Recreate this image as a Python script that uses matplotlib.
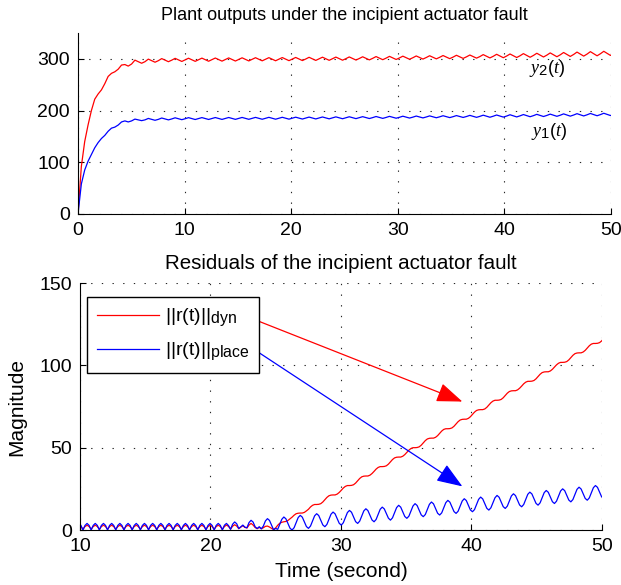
import numpy as np
import matplotlib
matplotlib.use('Agg')
import matplotlib.pyplot as plt
import matplotlib._mathtext as _mt

_mt.SHRINK_FACTOR = 0.82  # larger subscripts, as in the reference

plt.rcParams['font.family'] = ['Liberation Sans', 'DejaVu Sans']
plt.rcParams['mathtext.fontset'] = 'custom'
plt.rcParams['mathtext.rm'] = 'Liberation Sans'
plt.rcParams['mathtext.it'] = 'Liberation Serif:italic'
plt.rcParams['mathtext.bf'] = 'Liberation Sans:bold'

# ---------------- data ----------------
top_title = "Plant outputs under the incipient actuator fault"
bottom_title = "Residuals of the incipient actuator fault"
top_xticks = [0, 10, 20, 30, 40, 50]
top_yticks = [0, 100, 200, 300]
bot_xticks = [10, 20, 30, 40, 50]
bot_yticks = [0, 50, 100, 150]

# plant outputs, sampled every OUT_DT seconds from OUT_T0
OUT_T0 = 0.0
OUT_DT = 0.31416
y2_vals = [
    0, 92, 140, 172, 200, 222, 232, 240, 252, 266, 272, 275, 280, 288, 289, 286, 290,
    297.5, 294.5, 291.5, 294.5, 299.5, 296.5, 293.5, 296.5,
    300.5, 297.5, 294.5, 297.5, 301, 298, 295, 298,
    301.2, 298.2, 295.2, 298.2, 301.4, 298.4, 295.4, 298.4,
    301.6, 298.6, 295.6, 298.6, 301.8, 298.8, 295.8, 298.8,
    302, 299, 296, 299, 302.2, 299.2, 296.2, 299.2,
    302.3, 299.3, 296.3, 299.3, 302.5, 299.5, 296.5, 299.5,
    302.7, 299.7, 296.7, 299.7, 303, 300, 297, 300,
    303.2, 300.2, 297.2, 300.2, 303.4, 300.4, 297.4, 300.4,
    303.7, 300.7, 297.7, 300.7, 304, 301, 298, 301,
    304.4, 301.4, 298.4, 301.4, 304.8, 301.8, 298.8, 301.8,
    305.2, 302.2, 299.2, 302.2, 305.6, 302.6, 299.6, 302.6,
    306, 303, 300, 303, 306.4, 303.4, 300.4, 303.4,
    306.9, 303.9, 300.9, 303.9, 307.4, 304.4, 301.4, 304.4,
    308.2, 305, 301.8, 305, 308.8, 305.5, 302.2, 305.5,
    309.4, 306, 302.6, 306, 310.1, 306.6, 303.1, 306.6,
    310.8, 307.2, 303.6, 307.2, 311.5, 307.8, 304.1, 307.8,
    312.3, 308.5, 304.7, 308.5, 313.1, 309.2, 305.3, 309.2,
    313.9, 309.9, 305.9, 309.9, 314.6, 310.6, 306.6, 310.6,
]
y1_vals = [
    0, 58, 85, 102, 115, 128, 138, 146, 152, 160, 166, 168, 172, 178, 180, 178, 180,
    183.5, 182, 180.5, 182, 184.8, 183, 181.2, 183,
    185.6, 183.8, 182, 183.8, 186, 184.2, 182.4, 184.2,
    186.3, 184.5, 182.7, 184.5, 186.4, 184.6, 182.8, 184.6,
    186.5, 184.7, 182.9, 184.7, 186.6, 184.8, 183, 184.8,
    186.7, 184.9, 183.1, 184.9, 186.8, 185, 183.2, 185,
    186.9, 185.1, 183.3, 185.1, 187, 185.2, 183.4, 185.2,
    187.2, 185.4, 183.6, 185.4, 187.4, 185.6, 183.8, 185.6,
    187.6, 185.8, 184, 185.8, 187.8, 186, 184.2, 186,
    188, 186.2, 184.4, 186.2, 188.2, 186.4, 184.6, 186.4,
    188.5, 186.7, 184.9, 186.7, 188.8, 187, 185.2, 187,
    189.1, 187.3, 185.5, 187.3, 189.4, 187.6, 185.8, 187.6,
    189.7, 187.9, 186.1, 187.9, 190, 188.2, 186.4, 188.2,
    190.3, 188.5, 186.7, 188.5, 190.7, 188.8, 186.9, 188.8,
    191.1, 189.1, 187.1, 189.1, 191.4, 189.4, 187.4, 189.4,
    191.9, 189.8, 187.7, 189.8, 192.3, 190.2, 188.1, 190.2,
    192.7, 190.6, 188.5, 190.6, 193.1, 191, 188.9, 191,
    193.6, 191.4, 189.2, 191.4, 194, 191.8, 189.6, 191.8,
    194.4, 192.2, 190, 192.2, 194.8, 192.6, 190.4, 192.6,
]

# residual norms, sampled every RES_DT seconds from RES_T0
RES_T0 = 9.914
RES_DT = 0.15708
r_dyn = [
    2.9, 2.1, 0.5, 2.1, 2.9, 2.1, 0.5, 2.1,
    2.9, 2.1, 0.5, 2.1, 2.9, 2.1, 0.5, 2.1,
    2.9, 2.1, 0.5, 2.1, 2.9, 2.1, 0.5, 2.1,
    2.9, 2.1, 0.5, 2.1, 2.9, 2.1, 0.5, 2.1,
    2.9, 2.1, 0.5, 2.1, 2.9, 2.1, 0.5, 2.1,
    2.9, 2.1, 0.5, 2.1, 2.9, 2.1, 0.5, 2.1,
    2.9, 2.1, 0.5, 2.1, 2.9, 2.1, 0.5, 2.1,
    2.9, 2.1, 0.5, 2.1, 2.9, 2.1, 0.5, 2.1,
    2.9, 2.1, 0.5, 2.1, 2.9, 2.1,
    0.5, 2.1, 3.0, 2.2, 0.6, 2.3, 3.2, 2.4, 0.8, 1.8, 2.6, 1.6, 1.2,
    3.0, 4.0, 3.0, 1.5, 0.8, 1.6, 0.8, 1.4, 2.2, 2.4, 1.8, 1.0, 0.3,
    1.3, 2.9, 4.1, 4.7, 5.0, 5.2, 5.8, 6.8,
    7.8, 9.0, 9.9, 10.2, 10.3, 10.3, 10.7, 11.6,
    12.6, 14.0, 15.0, 15.5, 15.5, 15.6, 16.0, 17.0,
    18.4, 19.8, 20.8, 21.2, 21.3, 21.3, 21.8, 22.8,
    24.1, 25.5, 26.5, 27.0, 27.0, 27.1, 27.5, 28.5,
    29.9, 31.3, 32.3, 32.7, 32.8, 32.8, 33.3, 34.3,
    35.6, 37.0, 38.0, 38.5, 38.5, 38.6, 39.0, 40.0,
    41.4, 42.8, 43.8, 44.2, 44.3, 44.3, 44.8, 45.8,
    47.2, 48.5, 49.5, 50.0, 50.0, 50.1, 50.5, 51.5,
    52.9, 54.3, 55.3, 55.7, 55.8, 55.8, 56.3, 57.3,
    58.7, 60.1, 61.1, 61.5, 61.5, 61.6, 62.0, 63.0,
    64.4, 65.8, 66.8, 67.2, 67.3, 67.3, 67.8, 68.8,
    70.2, 71.6, 72.6, 73.0, 73.1, 73.1, 73.5, 74.5,
    75.9, 77.3, 78.3, 78.8, 78.8, 78.9, 79.3, 80.3,
    81.7, 83.1, 84.1, 84.5, 84.6, 84.6, 85.1, 86.1,
    87.4, 88.8, 89.8, 90.3, 90.3, 90.4, 90.8, 91.8,
    93.2, 94.6, 95.6, 96.0, 96.1, 96.1, 96.6, 97.6,
    99.0, 100.3, 101.3, 101.8, 101.8, 101.9, 102.3, 103.3,
    104.7, 106.1, 107.1, 107.5, 107.6, 107.6, 108.1, 109.1,
    110.5, 111.9, 112.9, 113.3, 113.3, 113.4, 113.8, 114.8,
    116.2,
]
r_place = [
    4.0, 2.8, 0.0, 2.8, 4.0, 2.8, 0.0, 2.8,
    4.0, 2.8, 0.0, 2.8, 4.0, 2.8, 0.0, 2.8,
    4.0, 2.8, 0.0, 2.8, 4.0, 2.8, 0.0, 2.8,
    4.0, 2.8, 0.0, 2.8, 4.0, 2.8, 0.0, 2.8,
    4.0, 2.8, 0.0, 2.8, 4.0, 2.8, 0.0, 2.8,
    4.0, 2.8, 0.0, 2.8, 4.0, 2.8, 0.0, 2.8,
    4.0, 2.8, 0.0, 2.8, 4.0, 2.8, 0.0, 2.8,
    4.0, 2.8, 0.0, 2.8, 4.0, 2.8, 0.0, 2.8,
    4.0, 2.8, 0.0, 2.8, 4.0, 2.8,
    0.0, 2.9, 4.0, 2.7, 0.4, 3.5, 4.9, 3.8, 0.9, 1.9, 3.0, 1.7, 1.4,
    4.5, 5.9, 4.8, 1.9, 0.9, 2.0, 0.7, 2.4, 5.5, 6.9, 5.8, 2.9, 0.1,
    1.0, 0.4, 3.4, 6.5, 7.9, 6.8, 4.0, 1.1, 0.0, 1.4, 4.5, 7.6,
    8.9, 7.8, 5.0, 2.1, 1.0, 2.4, 5.5, 8.6,
    9.9, 8.8, 6.0, 3.1, 2.0, 3.4, 6.5, 9.6,
    10.9, 9.8, 7.0, 4.1, 3.0, 4.4, 7.5, 10.6,
    11.9, 10.8, 8.0, 5.1, 4.0, 5.4, 8.5, 11.6,
    12.9, 11.8, 9.0, 6.1, 5.0, 6.4, 9.5, 12.6,
    13.9, 12.8, 10.0, 7.2, 6.0, 7.4, 10.5, 13.6,
    15.0, 13.9, 11.0, 8.2, 7.1, 8.4, 11.5, 14.6,
    16.0, 14.9, 12.0, 9.2, 8.1, 9.4, 12.5, 15.6,
    17.0, 15.9, 13.0, 10.2, 9.1, 10.4, 13.5, 16.6,
    18.0, 16.9, 14.0, 11.2, 10.1, 11.4, 14.5, 17.6,
    19.0, 17.9, 15.0, 12.2, 11.1, 12.4, 15.5, 18.6,
    20.0, 18.9, 16.0, 13.2, 12.1, 13.5, 16.5, 19.6,
    21.0, 19.9, 17.1, 14.2, 13.1, 14.5, 17.6, 20.7,
    22.0, 20.9, 18.1, 15.2, 14.1, 15.5, 18.6, 21.7,
    23.0, 21.9, 19.1, 16.2, 15.1, 16.5, 19.6, 22.7,
    24.0, 22.9, 20.1, 17.2, 16.1, 17.5, 20.6, 23.7,
    25.0, 23.9, 21.1, 18.2, 17.1, 18.5, 21.6, 24.7,
    26.0, 24.9, 22.1, 19.2, 18.1, 19.5, 22.6, 25.7,
    27.0, 25.9, 23.1, 20.2, 19.1,
]

# arrow annotations (tail -> head) in data coordinates of the residual axes
arrow_dyn = ((23.66, 126.9), (39.3, 78.0))
arrow_place = ((23.66, 108.0), (39.3, 26.5))

# ---------------- figure ----------------
RED = '#ff0000'
BLUE = '#0000ff'
grid_kw = dict(color='0.15', linestyle=(0, (1.2, 8.4)), linewidth=0.8)

fig = plt.figure(figsize=(6.21, 5.85), dpi=100)
ax1 = fig.add_axes([0.1256, 0.6342, 0.8583, 0.3094])
ax2 = fig.add_axes([0.1288, 0.0940, 0.8406, 0.4222])

t_out = OUT_T0 + OUT_DT * np.arange(len(y2_vals))
ax1.plot(t_out, y2_vals, color=RED, lw=0.9)
ax1.plot(t_out, y1_vals, color=BLUE, lw=0.9)
ax1.set_xlim(0, 50)
ax1.set_ylim(0, 350)
ax1.set_xticks(top_xticks)
ax1.set_yticks(top_yticks)
ax1.set_title(top_title, fontsize=13, pad=9)
ax1.text(42.3, 282, r'$\mathit{y}_{\mathit{2}}\mathit{(t)}$', fontsize=13, ha='left', va='center')
ax1.text(42.5, 160, r'$\mathit{y}_{\mathit{1}}\mathit{(t)}$', fontsize=13, ha='left', va='center')

t_res = RES_T0 + RES_DT * np.arange(len(r_dyn))
ax2.plot(t_res, r_dyn, color=RED, lw=0.9, label=r'||r(t)||$_{\mathrm{dyn}}$')
ax2.plot(t_res, r_place, color=BLUE, lw=0.9, label=r'||r(t)||$_{\mathrm{place}}$')
ax2.set_xlim(10, 50)
ax2.set_ylim(0, 150)
ax2.set_xticks(bot_xticks)
ax2.set_yticks(bot_yticks)
ax2.set_title(bottom_title, fontsize=14.8, pad=10)
ax2.set_xlabel('Time (second)', fontsize=15, labelpad=5)
ax2.set_ylabel('Magnitude', fontsize=15, labelpad=9)

leg = ax2.legend(loc='upper left', bbox_to_anchor=(0.0134, 0.943), fontsize=14,
                 frameon=True, fancybox=False, framealpha=1, edgecolor='k',
                 handlelength=3.2, handletextpad=0.3, labelspacing=0.6,
                 borderpad=0.5, borderaxespad=0.0)
leg.get_frame().set_linewidth(1.0)

for (tail, head), col in ((arrow_dyn, RED), (arrow_place, BLUE)):
    ax2.annotate('', xy=head, xytext=tail,
                 arrowprops=dict(arrowstyle='-|>,head_length=0.8,head_width=0.3',
                                 color=col, lw=0.9, mutation_scale=20,
                                 shrinkA=0, shrinkB=0))

for ax in (ax1, ax2):
    ax.grid(True, **grid_kw)
    ax.spines['top'].set_visible(False)
    ax.spines['right'].set_visible(False)
    ax.tick_params(direction='in', length=4, width=0.8, labelsize=14)
    ax.tick_params(axis='x', pad=6)
    ax.tick_params(axis='y', pad=6)
    ax.set_axisbelow(True)

fig.savefig('out.png', dpi=100, facecolor='white')
